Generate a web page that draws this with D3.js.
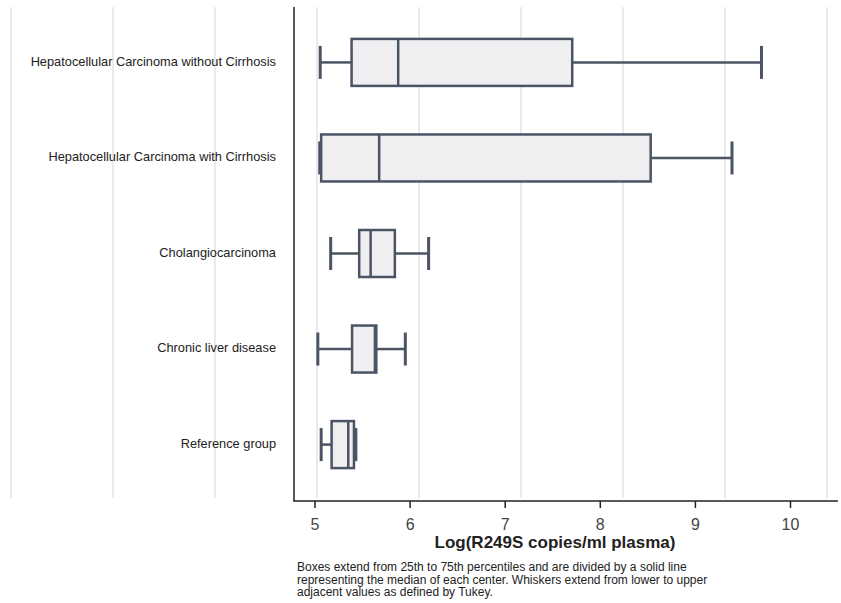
<!DOCTYPE html>
<html>
<head>
<meta charset="utf-8">
<script src="https://cdn.jsdelivr.net/npm/d3@7"></script>
<style>
  body { margin: 0; background: #fff; }
  text { font-family: Arial, "Liberation Sans", sans-serif; }
</style>
</head>
<body>
<svg id="my-svg"></svg>
<script>
const groups = ["Hepatocellular Carcinoma without Cirrhosis", "Hepatocellular Carcinoma with Cirrhosis",
  "Cholangiocarcinoma", "Chronic liver disease", "Reference group"];
// lower whisker, q1, median, q3, upper whisker
const lowWhisker = [5.06, 5.055, 5.17, 5.035, 5.07];
const q1 = [5.39, 5.07, 5.47, 5.395, 5.18];
const median = [5.88, 5.68, 5.59, 5.635, 5.355];
const q3 = [7.71, 8.535, 5.845, 5.65, 5.415];
const highWhisker = [9.70, 9.39, 6.20, 5.955, 5.435];
const xTicks = [5, 6, 7, 8, 9, 10];
const caption = ["Boxes extend from 25th to 75th percentiles and are divided by a solid line",
  "representing the median of each center. Whiskers extend from lower to upper",
  "adjacent values as defined by Tukey."];

const width = 841, height = 603;
const svg = d3.select("#my-svg").attr("width", width).attr("height", height);

const x = d3.scaleLinear().domain([5, 10]).range([314.5, 790]);
const y = d3.scalePoint().domain(groups).range([7, 500]).padding(0.58);
const grid = d3.scaleLinear().domain([0, 8]).range([11, 827]);

const data = groups.map((g, i) => ({
  name: g, lo: lowWhisker[i], q1: q1[i], med: median[i], q3: q3[i], hi: highWhisker[i]
}));

// background grid lines
svg.append("g").selectAll("line")
  .data(d3.range(9))
  .join("line")
    .attr("x1", d => grid(d)).attr("x2", d => grid(d))
    .attr("y1", 7).attr("y2", 498)
    .attr("stroke", "#eaeaec").attr("stroke-width", 2);

// axes
svg.append("line")
  .attr("x1", 294).attr("x2", 294).attr("y1", 7).attr("y2", 501)
  .attr("stroke", "#222").attr("stroke-width", 1.5);

const xAxis = svg.append("g")
  .attr("transform", "translate(0,501)")
  .call(d3.axisBottom(x).tickValues(xTicks).tickFormat(d3.format("d"))
    .tickSize(7).tickSizeOuter(0).tickPadding(11));
xAxis.select(".domain").remove();
xAxis.selectAll(".tick line").attr("stroke", "#222").attr("stroke-width", 1.5);
xAxis.selectAll(".tick text")
  .attr("font-size", 16).attr("fill", "#444")
  .style("font-family", "Arial, 'Liberation Sans', sans-serif");
svg.append("line")
  .attr("x1", 293.25).attr("x2", 838).attr("y1", 501).attr("y2", 501)
  .attr("stroke", "#222").attr("stroke-width", 1.5);

svg.append("text")
  .attr("x", 555).attr("y", 548)
  .attr("text-anchor", "middle")
  .attr("font-size", 17).attr("font-weight", "bold").attr("fill", "#222")
  .text("Log(R249S copies/ml plasma)");

svg.append("g").selectAll("text")
  .data(caption)
  .join("text")
    .attr("x", 297).attr("y", (d, i) => 571 + i * 12.7)
    .attr("font-size", 12).attr("fill", "#222")
    .text(d => d);

// category labels
svg.append("g").selectAll("text")
  .data(groups)
  .join("text")
    .attr("x", 276).attr("y", d => y(d))
    .attr("text-anchor", "end").attr("dominant-baseline", "middle")
    .attr("font-size", 12.8).attr("fill", "#222")
    .text(d => d);

// boxes
const col = "#4b5465";
const boxH = 47, capH = 33;
const box = svg.append("g").selectAll("g")
  .data(data)
  .join("g")
    .attr("transform", d => `translate(0,${y(d.name)})`);

box.append("line")
  .attr("x1", d => x(d.lo)).attr("x2", d => x(d.q1))
  .attr("stroke", col).attr("stroke-width", 2.5);
box.append("line")
  .attr("x1", d => x(d.q3)).attr("x2", d => x(d.hi))
  .attr("stroke", col).attr("stroke-width", 2.5);
box.append("rect")
  .attr("x", d => x(d.q1)).attr("y", -boxH / 2)
  .attr("width", d => x(d.q3) - x(d.q1)).attr("height", boxH)
  .attr("fill", "#efeff1").attr("stroke", col).attr("stroke-width", 2.5);
box.append("line")
  .attr("x1", d => x(d.med)).attr("x2", d => x(d.med))
  .attr("y1", -boxH / 2).attr("y2", boxH / 2)
  .attr("stroke", col).attr("stroke-width", 2.5);
box.selectAll(".cap")
  .data(d => [d.lo, d.hi])
  .join("line")
    .attr("class", "cap")
    .attr("x1", d => x(d)).attr("x2", d => x(d))
    .attr("y1", -capH / 2).attr("y2", capH / 2)
    .attr("stroke", col).attr("stroke-width", 3);
</script>
</body>
</html>
